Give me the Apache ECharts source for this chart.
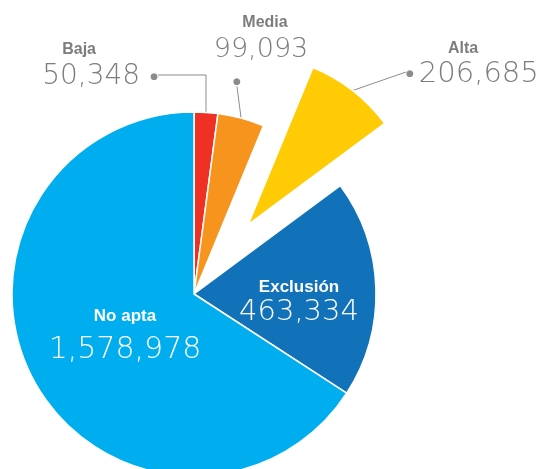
<!DOCTYPE html>
<html><head><meta charset="utf-8">
<script src="https://cdn.jsdelivr.net/npm/echarts@6/dist/echarts.min.js"></script>
<style>html,body{margin:0;padding:0;background:#fff}#c{width:539px;height:469px}</style>
</head><body><div id="c"></div>
<script>
// ---- data ----
const categories = ['Baja', 'Media', 'Alta', 'Exclusión', 'No apta'];
const values = [50348, 99093, 206685, 463334, 1578978];
const colors = ['#ee3124', '#f7941e', '#ffcb05', '#1172ba', '#00aeef'];
const explodedCategory = 'Alta';

// ---- geometry ----
const CENTER = [194, 294];
const EXPLODE = 88;
const total = values.reduce((a, b) => a + b, 0);
const expIdx = categories.indexOf(explodedCategory);
const before = values.slice(0, expIdx).reduce((a, b) => a + b, 0);
const midRad = (before + values[expIdx] / 2) / total * 2 * Math.PI;
const expCenter = [CENTER[0] + EXPLODE * Math.sin(midRad), CENTER[1] - EXPLODE * Math.cos(midRad)];

// ---- styling ----
const fmt = v => v.toLocaleString('en-US');
const GREY = '#7d7d7d';
const LINE = '#8c8c8c';
const NAME_FONT = '"Liberation Sans", Arial, sans-serif';
const VAL_FONT = '"DejaVu Sans", sans-serif';
const nameStyle = (size, lh, color, extra) => Object.assign({fontFamily: NAME_FONT, fontWeight: 'bold', fontSize: size, lineHeight: lh, color: color}, extra || {});
const valStyle = (size, lh, color, extra) => Object.assign({fontFamily: VAL_FONT, fontWeight: 200, fontSize: size, lineHeight: lh, color: color}, extra || {});
const dotStyle = (lh, extra) => Object.assign({fontFamily: VAL_FONT, fontSize: 9, lineHeight: lh, color: LINE}, extra || {});

const labelCfg = {
  'Baja': {
    text: (n, v) => `{n|${n}}\n{v|${v}}{d|●}\n{e| }`,
    rich: {n: nameStyle(16, 27, GREY, {align: 'left', padding: [0, 0, 0, 20]}), v: valStyle(28, 27, GREY, {padding: [0, 10, 0, 0]}), d: dotStyle(27), e: {fontSize: 8, lineHeight: 27}},
    layout: {x: 158, y: 77, align: 'right', verticalAlign: 'middle'}, length2: 48
  },
  'Media': {
    text: (n, v) => `{n|${n}}\n{v|${v}}\n{s| }\n{d|●}`,
    rich: {n: nameStyle(16, 27, GREY, {padding: [0, 0, 0, 56]}), v: valStyle(27, 27, GREY, {padding: [0, 0, 0, 48]}), s: {fontSize: 8, lineHeight: 14}, d: dotStyle(10)},
    layout: {x: 237, y: 9, align: 'center', verticalAlign: 'top'}, length2: 0
  },
  'Alta': {
    text: (n, v) => `{n|${n}}\n{d|●}{v|${v}}\n{e| }`,
    rich: {n: nameStyle(16, 25, GREY, {padding: [0, 0, 0, 42]}), d: dotStyle(25), v: valStyle(29, 25, GREY, {padding: [0, 0, 0, 5]}), e: {fontSize: 8, lineHeight: 25}},
    layout: {x: 406, y: 74, align: 'left', verticalAlign: 'middle'}, length2: 0
  },
  'Exclusión': {
    inside: true,
    text: (n, v) => `{n|${n}}\n{v|${v}}`,
    rich: {n: nameStyle(17, 25, '#fff'), v: valStyle(29, 25, '#fff')},
    layout: {x: 299, y: 300, align: 'center', verticalAlign: 'middle'}
  },
  'No apta': {
    inside: true,
    text: (n, v) => `{n|${n}}\n{v|${v}}`,
    rich: {n: nameStyle(17, 34, '#fff'), v: valStyle(30, 34, '#fff')},
    layout: {x: 125, y: 333, align: 'center', verticalAlign: 'middle'}
  }
};

function makeData(role) {
  return categories.map((name, i) => {
    const isExp = name === explodedCategory;
    const visible = role === 'main' ? !isExp : isExp;
    const cfg = labelCfg[name];
    return {
      name: name,
      value: values[i],
      itemStyle: visible ? {color: colors[i], borderColor: '#fff', borderWidth: 1.5}
                         : {color: 'rgba(0,0,0,0)', borderWidth: 0},
      label: visible ? {show: true, position: cfg.inside ? 'inside' : 'outside',
                        formatter: cfg.text(name, fmt(values[i])), rich: cfg.rich}
                     : {show: false},
      labelLine: (visible && !cfg.inside) ? {show: true, length: 10, length2: cfg.length2,
                        lineStyle: {color: LINE, width: 1}} : {show: false}
    };
  });
}

const labelLayout = params => Object.assign({}, labelCfg[categories[params.dataIndex]].layout);

const chart = echarts.init(document.getElementById('c'), null, {renderer: 'canvas'});
const common = {
  type: 'pie', startAngle: 90, clockwise: true, avoidLabelOverlap: false,
  selectedMode: false, silent: true, emphasis: {disabled: true},
  labelLine: {minTurnAngle: 0}, labelLayout: labelLayout
};
chart.setOption({
  animation: false,
  series: [
    Object.assign({}, common, {center: CENTER, radius: 182, data: makeData('main')}),
    Object.assign({}, common, {center: expCenter, radius: 170, data: makeData('exploded')})
  ]
});
</script>
</body></html>
